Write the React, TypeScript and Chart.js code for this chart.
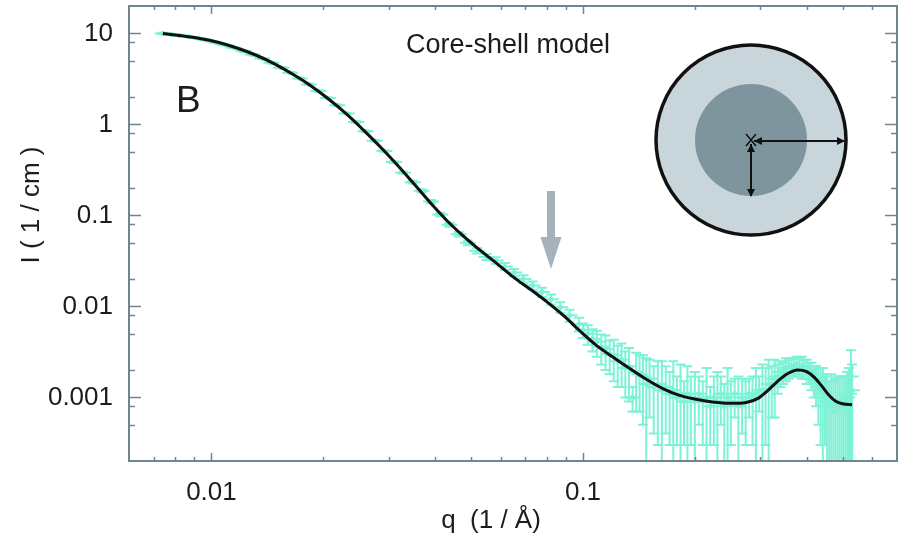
import React, { useEffect, useRef } from "react";
import { Chart, registerables } from "chart.js";

Chart.register(...registerables);

// ---------- data ----------
// fitted core-shell model curve
const qFit = [
  0.0074, 0.0083, 0.0093, 0.0104, 0.0116, 0.013, 0.0146, 0.0163, 0.0183, 0.0205,
  0.023, 0.0257, 0.0288, 0.032, 0.0355, 0.039, 0.043, 0.0475, 0.053, 0.059,
  0.065, 0.072, 0.08, 0.089, 0.098, 0.108, 0.12, 0.133, 0.148, 0.164,
  0.181, 0.2, 0.223, 0.25, 0.275, 0.295, 0.315, 0.335, 0.355, 0.378,
  0.4, 0.42, 0.44, 0.46, 0.48, 0.5, 0.53,
];
const iFit = [
  10.0, 9.4, 8.8, 8.0, 7.0, 5.9, 4.75, 3.7, 2.75, 1.95,
  1.32, 0.86, 0.54, 0.34, 0.21, 0.135, 0.088, 0.06, 0.041, 0.029,
  0.021, 0.0155, 0.0112, 0.0078, 0.0054, 0.0038, 0.0028, 0.0021, 0.00158, 0.00125,
  0.00106, 0.00096, 0.00089, 0.00086, 0.00088, 0.00097, 0.0012, 0.00152, 0.00182, 0.002,
  0.00192, 0.00165, 0.00132, 0.00105, 0.0009, 0.00085, 0.00083,
];

// measured SANS data with error bars
const qData = [
  // low q
  0.0074, 0.0078, 0.0082, 0.0087, 0.0092, 0.0097, 0.0103, 0.0109, 0.0115, 0.0122,
  0.0129, 0.0137, 0.0145, 0.0154, 0.0163, 0.0173, 0.0183, 0.0194, 0.0206, 0.0218,
  0.0231, 0.0245, 0.026, 0.0275, 0.0292, 0.031, 0.0328,
  // intermediate q
  0.0348, 0.0368, 0.039, 0.0413, 0.0437, 0.0463, 0.049, 0.0519, 0.055, 0.0582,
  0.0616, 0.0653, 0.0691, 0.0732, 0.0775, 0.0821, 0.0869, 0.092, 0.0975,
  // high q
  0.1, 0.103, 0.106, 0.109, 0.112, 0.115, 0.118, 0.121, 0.124, 0.127,
  0.13, 0.133, 0.136, 0.139, 0.142, 0.145, 0.148, 0.151, 0.155, 0.159,
  0.163, 0.167, 0.171, 0.175, 0.179, 0.183, 0.187, 0.191, 0.195, 0.2,
  0.205, 0.21, 0.215, 0.22, 0.225, 0.23, 0.235, 0.24, 0.245, 0.25,
  0.256, 0.262, 0.268, 0.274, 0.28, 0.286, 0.292, 0.298,
  // correlation peak
  0.304, 0.31, 0.316, 0.322, 0.328, 0.334, 0.34, 0.346, 0.352, 0.358,
  0.364, 0.37, 0.376, 0.382, 0.388, 0.394, 0.4, 0.406, 0.412, 0.418,
  0.424, 0.43, 0.436, 0.442, 0.448, 0.454, 0.46, 0.466, 0.472, 0.478,
  0.484, 0.49, 0.496, 0.502, 0.508, 0.514, 0.52, 0.526, 0.53,
];
const iData = [
  10.0, 9.75, 9.5, 9.2, 8.85, 8.45, 7.95, 7.45, 6.95, 6.4,
  5.85, 5.3, 4.75, 4.2, 3.7, 3.2, 2.75, 2.33, 1.95, 1.62,
  1.32, 1.06, 0.84, 0.66, 0.51, 0.385, 0.295,
  0.232, 0.186, 0.142, 0.102, 0.079, 0.062, 0.05, 0.041, 0.035, 0.032,
  0.0275, 0.0236, 0.02, 0.017, 0.0144, 0.012, 0.0098, 0.008, 0.0064,
  0.0055, 0.005, 0.0044, 0.0041, 0.0036, 0.0034, 0.003, 0.0029, 0.0025, 0.0026,
  0.0021, 0.0022, 0.001, 0.0019, 0.0018, 0.0017, 0.0014, 0.0016, 0.0013, 0.0014,
  0.0012, 0.0013, 0.0011, 0.0012, 0.001, 0.0011, 0.0009, 0.0011, 0.001, 0.0009,
  0.0011, 0.0009, 0.001, 0.0008, 0.001, 0.0009, 0.0011, 0.0008, 0.001, 0.0009,
  0.0011, 0.0008, 0.001, 0.0009, 0.0011, 0.001, 0.0011, 0.0012,
  0.0012, 0.0012, 0.0014, 0.0014, 0.0016, 0.0017, 0.0019, 0.0019, 0.0021, 0.0021,
  0.0022, 0.0022, 0.0023, 0.0022, 0.0022, 0.0021, 0.002, 0.0019, 0.0018, 0.0016,
  0.0015, 0.0013, 0.0012, 0.0011, 0.001, 0.0009, 0.0008, 0.0009, 0.0007, 0.0009,
  0.0008, 0.0009, 0.0008, 0.0009, 0.0008, 0.001, 0.0011, 0.0017, 0.0012,
];
const iErr = [
  0.15, 0.14, 0.14, 0.13, 0.13, 0.12, 0.12, 0.11, 0.1, 0.1,
  0.09, 0.08, 0.07, 0.06, 0.06, 0.05, 0.04, 0.04, 0.03, 0.03,
  0.02, 0.02, 0.015, 0.012, 0.01, 0.008, 0.007,
  0.008, 0.007, 0.006, 0.005, 0.004, 0.0035, 0.003, 0.0028, 0.0026, 0.0026,
  0.0024, 0.0022, 0.002, 0.0018, 0.0016, 0.0015, 0.0013, 0.0012, 0.0011,
  0.001, 0.0012, 0.0012, 0.0013, 0.0013, 0.0014, 0.0012, 0.0014, 0.0012, 0.0013,
  0.0011, 0.0013, 0.0003, 0.0012, 0.0011, 0.0012, 0.0013, 0.001, 0.0009, 0.0011,
  0.0013, 0.0009, 0.0008, 0.0013, 0.0007, 0.0012, 0.0006, 0.0011, 0.0007, 0.001,
  0.0006, 0.0006, 0.0011, 0.0005, 0.0007, 0.001, 0.0006, 0.0006, 0.0011, 0.0006,
  0.0005, 0.0009, 0.0006, 0.0006, 0.0005, 0.0007, 0.001, 0.0005,
  0.0011, 0.0009, 0.0012, 0.0008, 0.001, 0.0006, 0.0006, 0.0005, 0.0006, 0.0005,
  0.0005, 0.0005, 0.0005, 0.0005, 0.0006, 0.0005, 0.0006, 0.0005, 0.0006, 0.0006,
  0.0007, 0.0008, 0.0009, 0.001, 0.0007, 0.0009, 0.0007, 0.0009, 0.0008, 0.0007,
  0.0009, 0.0008, 0.0009, 0.0008, 0.0009, 0.0009, 0.001, 0.0016, 0.0011,
];

// axes
const xMin = 0.006;
const xMax = 0.7;
const yMin = 0.0002;
const yMax = 20;
const xMajorTicks = [0.01, 0.1];
const xTickLabels = ["0.01", "0.1"];
const xMinorTicks = [
  0.007, 0.008, 0.009, 0.02, 0.03, 0.04, 0.05, 0.06, 0.07, 0.08, 0.09,
  0.2, 0.3, 0.4, 0.5, 0.6,
];
const yMajorTicks = [0.001, 0.01, 0.1, 1, 10];
const yTickLabels = ["0.001", "0.01", "0.1", "1", "10"];
const yMinorTicks = [
  0.0005, 0.0008, 0.002, 0.005, 0.008, 0.02, 0.05, 0.08, 0.2, 0.5, 0.8, 2, 5, 8,
];
const xTitle = "q  (1 / Å)";
const yTitle = "I ( 1 / cm )";
const panelLabel = "B";
const modelLabel = "Core-shell model";
const arrowQ = 0.082;

// ---------- style ----------
const FONT = "'Liberation Sans', Arial, Helvetica, sans-serif";
const CYAN = "rgb(124, 242, 214)";
const FRAME = "#71858f";
const TEXT = "#1c1c1c";

const decorPlugin = {
  id: "decor",
  beforeDatasetsDraw(chart: any) {
    const { ctx, chartArea: a, scales } = chart;
    const xs = scales.x;
    const ys = scales.y;
    ctx.save();
    ctx.beginPath();
    ctx.rect(a.left, a.top, a.right - a.left, a.bottom - a.top);
    ctx.clip();
    ctx.strokeStyle = CYAN;
    ctx.lineWidth = 2;
    for (let i = 0; i < qData.length; i++) {
      const x = xs.getPixelForValue(qData[i]);
      const y = ys.getPixelForValue(iData[i]);
      const hiV = iData[i] + iErr[i];
      const loV = iData[i] - iErr[i];
      const yHi = ys.getPixelForValue(hiV);
      const yLo = loV > yMin ? ys.getPixelForValue(loV) : a.bottom + 2;
      ctx.beginPath();
      ctx.moveTo(x, yHi);
      ctx.lineTo(x, yLo);
      ctx.moveTo(x - 5, yHi);
      ctx.lineTo(x + 5, yHi);
      if (loV > yMin) {
        ctx.moveTo(x - 5, yLo);
        ctx.lineTo(x + 5, yLo);
      }
      ctx.moveTo(x - 8, y);
      ctx.lineTo(x + 8, y);
      ctx.stroke();
    }
    ctx.restore();
  },
  afterDraw(chart: any) {
    const { ctx, chartArea: a, scales } = chart;
    const xs = scales.x;
    const ys = scales.y;
    ctx.save();
    // frame
    ctx.strokeStyle = FRAME;
    ctx.lineWidth = 2;
    ctx.strokeRect(a.left, a.top, a.right - a.left, a.bottom - a.top);
    // ticks (inward, mirrored)
    ctx.lineWidth = 1.5;
    const xTick = (v: number, len: number) => {
      const px = Math.round(xs.getPixelForValue(v)) + 0.5;
      ctx.beginPath();
      ctx.moveTo(px, a.bottom);
      ctx.lineTo(px, a.bottom - len);
      ctx.moveTo(px, a.top);
      ctx.lineTo(px, a.top + len);
      ctx.stroke();
    };
    const yTick = (v: number, len: number) => {
      const py = Math.round(ys.getPixelForValue(v)) + 0.5;
      ctx.beginPath();
      ctx.moveTo(a.left, py);
      ctx.lineTo(a.left + len, py);
      ctx.moveTo(a.right, py);
      ctx.lineTo(a.right - len, py);
      ctx.stroke();
    };
    xMajorTicks.forEach((v) => xTick(v, 8));
    xMinorTicks.forEach((v) => xTick(v, 4));
    yMajorTicks.forEach((v) => yTick(v, 12));
    yMinorTicks.forEach((v) => yTick(v, 6));

    // axis titles
    ctx.fillStyle = TEXT;
    ctx.font = `26px ${FONT}`;
    ctx.textAlign = "center";
    ctx.textBaseline = "middle";
    ctx.fillText(xTitle, a.left + 362, a.bottom + 60);
    ctx.save();
    ctx.translate(a.left - 97, a.top + 199);
    ctx.rotate(-Math.PI / 2);
    ctx.fillText(yTitle, 0, 0);
    ctx.restore();

    // panel label and model label
    ctx.textAlign = "left";
    ctx.textBaseline = "alphabetic";
    ctx.font = `37px ${FONT}`;
    ctx.fillText(panelLabel, a.left + 47, a.top + 106);
    ctx.font = `27px ${FONT}`;
    ctx.fillText(modelLabel, a.left + 277, a.top + 47);

    // grey arrow marking the shoulder
    const ax = xs.getPixelForValue(arrowQ);
    ctx.fillStyle = "#a6b2b9";
    ctx.fillRect(ax - 4, a.top + 185, 8, 50);
    ctx.beginPath();
    ctx.moveTo(ax - 10.5, a.top + 231);
    ctx.lineTo(ax + 10.5, a.top + 231);
    ctx.lineTo(ax, a.top + 263);
    ctx.closePath();
    ctx.fill();

    // core-shell sketch
    const cx = a.right - 146;
    const cy = a.top + 134;
    ctx.beginPath();
    ctx.arc(cx, cy, 95, 0, Math.PI * 2);
    ctx.fillStyle = "#c8d5db";
    ctx.fill();
    ctx.lineWidth = 3.5;
    ctx.strokeStyle = "#111";
    ctx.stroke();
    ctx.beginPath();
    ctx.arc(cx, cy, 56, 0, Math.PI * 2);
    ctx.fillStyle = "#7f959e";
    ctx.fill();
    ctx.strokeStyle = "#111";
    ctx.fillStyle = "#111";
    ctx.lineWidth = 2;
    const head = (x: number, y: number, dx: number, dy: number) => {
      const s = 8;
      const w = 4;
      ctx.beginPath();
      ctx.moveTo(x, y);
      ctx.lineTo(x - dx * s - dy * w, y - dy * s + dx * w);
      ctx.lineTo(x - dx * s + dy * w, y - dy * s - dx * w);
      ctx.closePath();
      ctx.fill();
    };
    // horizontal arrow (outer radius)
    ctx.beginPath();
    ctx.moveTo(cx + 3, cy + 1);
    ctx.lineTo(cx + 93, cy + 1);
    ctx.stroke();
    head(cx + 94, cy + 1, 1, 0);
    head(cx + 3, cy + 1, -1, 0);
    // vertical arrow (core radius)
    ctx.beginPath();
    ctx.moveTo(cx, cy + 4);
    ctx.lineTo(cx, cy + 56);
    ctx.stroke();
    head(cx, cy + 57, 0, 1);
    head(cx, cy + 4, 0, -1);
    // centre cross
    ctx.lineWidth = 1.5;
    ctx.beginPath();
    ctx.moveTo(cx - 5, cy - 6);
    ctx.lineTo(cx + 5, cy + 6);
    ctx.moveTo(cx + 5, cy - 6);
    ctx.lineTo(cx - 5, cy + 6);
    ctx.stroke();
    ctx.restore();
  },
};

export default function App() {
  const ref = useRef<HTMLCanvasElement | null>(null);
  useEffect(() => {
    if (!ref.current) return;
    const chart = new Chart(ref.current, {
      type: "scatter",
      data: {
        datasets: [
          {
            type: "line",
            label: "fit",
            data: qFit.map((q, i) => ({ x: q, y: iFit[i] })),
            borderColor: "#111111",
            borderWidth: 3,
            pointRadius: 0,
            cubicInterpolationMode: "monotone",
            fill: false,
          } as any,
          {
            type: "scatter",
            label: "data",
            data: qData.map((q, i) => ({ x: q, y: iData[i] })),
            backgroundColor: CYAN,
            borderWidth: 0,
            pointRadius: 2.5,
          },
        ],
      },
      options: {
        responsive: false,
        animation: false,
        layout: { padding: { left: 0, top: 6, right: 6, bottom: 0 } },
        plugins: {
          legend: { display: false },
          tooltip: { enabled: false },
          title: { display: false },
        },
        scales: {
          x: {
            type: "logarithmic",
            position: "bottom",
            min: xMin,
            max: xMax,
            grid: { display: false, drawTicks: false },
            border: { display: false },
            afterBuildTicks: (s: any) => {
              s.ticks = xMajorTicks.map((v) => ({ value: v }));
            },
            afterFit: (s: any) => {
              s.height = 77;
              s.paddingLeft = 0;
              s.paddingRight = 0;
              s.paddingTop = 0;
              s.paddingBottom = 0;
            },
            ticks: {
              padding: 16,
              autoSkip: false,
              maxRotation: 0,
              color: TEXT,
              font: { family: FONT, size: 26 },
              callback: (v: any) => {
                const k = xMajorTicks.indexOf(Number(v));
                return k >= 0 ? xTickLabels[k] : "";
              },
            },
          },
          y: {
            type: "logarithmic",
            position: "left",
            min: yMin,
            max: yMax,
            grid: { display: false, drawTicks: false },
            border: { display: false },
            afterBuildTicks: (s: any) => {
              s.ticks = yMajorTicks.map((v) => ({ value: v }));
            },
            afterFit: (s: any) => {
              s.width = 129;
              s.paddingLeft = 0;
              s.paddingRight = 0;
              s.paddingTop = 0;
              s.paddingBottom = 0;
            },
            ticks: {
              padding: 16,
              autoSkip: false,
              color: TEXT,
              font: { family: FONT, size: 26 },
              callback: (v: any) => {
                const k = yMajorTicks.indexOf(Number(v));
                return k >= 0 ? yTickLabels[k] : "";
              },
            },
          },
        },
      },
      plugins: [decorPlugin],
    });
    return () => chart.destroy();
  }, []);
  return (
    <div style={{ position: "absolute", left: 0, top: 0, width: 903, height: 538, background: "#fff" }}>
      <canvas ref={ref} width={903} height={538} style={{ display: "block" }} />
    </div>
  );
}
